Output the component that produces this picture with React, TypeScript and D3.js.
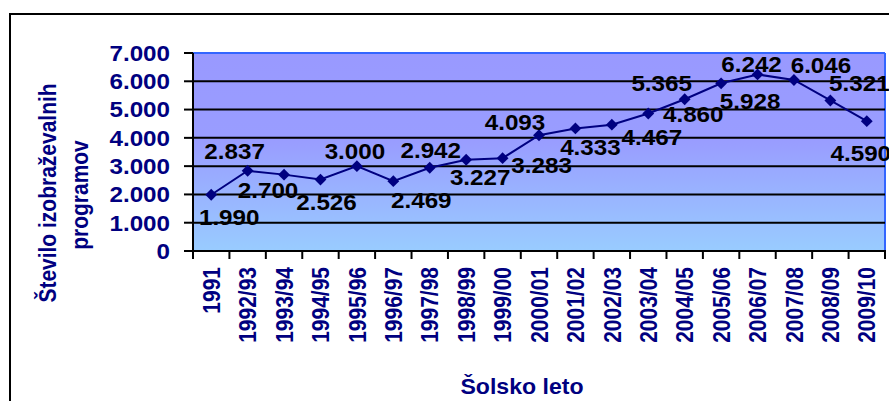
import React from "react";
import * as d3 from "d3";

// school years and number of programmes
const years = [
  "1991", "1992/93", "1993/94", "1994/95", "1995/96", "1996/97", "1997/98",
  "1998/99", "1999/00", "2000/01", "2001/02", "2002/03", "2003/04", "2004/05",
  "2005/06", "2006/07", "2007/08", "2008/09", "2009/10",
];
const programmes = [
  1990, 2837, 2700, 2526, 3000, 2469, 2942, 3227, 3283, 4093,
  4333, 4467, 4860, 5365, 5928, 6242, 6046, 5321, 4590,
];
const yTicks = [0, 1000, 2000, 3000, 4000, 5000, 6000, 7000];
const yTitle = ["Število izobraževalnih", "programov"];
const xTitle = "Šolsko leto";

// where each value label sits relative to its marker (px)
const labelNudge: [number, number][] = [
  [18, 22], [-13, -20], [-16, 15], [6, 23], [-2, -15], [28, 19], [1, -18],
  [14, 17], [39, 7], [-24, -13], [15, 19], [40, 12], [45, 1], [-23, -16],
  [29, 18], [-6, -10], [27, -15], [29, -17], [-6, 32],
];

const W = 889;
const H = 401;
const plot = { left: 193, right: 885, top: 53, bottom: 251 };
const font = "'Liberation Sans', Arial, sans-serif";
const stretch = 1.1;
const navy = "#000080";

const fmt = (v: number) => d3.format(",")(v).replace(/,/g, ".");

export default function App() {
  const x = d3
    .scaleBand<string>()
    .domain(years)
    .range([plot.left, plot.right]);
  const y = d3.scaleLinear().domain([0, 7000]).range([plot.bottom, plot.top]);
  const cx = (i: number) => (x(years[i]) as number) + x.bandwidth() / 2;

  const line = d3
    .line<number>()
    .x((_, i) => cx(i))
    .y((d) => y(d));

  const diamond = d3.symbol(d3.symbolSquare, 70)();

  const tickEdges = years.map((yr) => x(yr) as number).concat([plot.right]);

  return (
    <svg
      width={W}
      height={H}
      style={{ position: "fixed", left: 0, top: 0, display: "block" }}
      fontFamily={font}
      fontWeight="bold"
    >
      <defs>
        <linearGradient id="bg" x1="0" y1="0" x2="0" y2="1">
          <stop offset="0" stopColor="#9999ff" />
          <stop offset="0.45" stopColor="#999dff" />
          <stop offset="1" stopColor="#99ccff" />
        </linearGradient>
      </defs>
      <rect x={0} y={0} width={W} height={H} fill="#fff" />
      <rect
        x={10}
        y={14}
        width={W}
        height={H}
        fill="#fff"
        stroke="#000"
        strokeWidth={2}
      />

      {/* plot area */}
      <rect
        x={plot.left}
        y={plot.top}
        width={plot.right - plot.left}
        height={plot.bottom - plot.top}
        fill="url(#bg)"
      />
      <line x1={plot.left} x2={plot.right} y1={plot.top} y2={plot.top} stroke="#3366ff" strokeWidth={2} />
      <line x1={plot.right} x2={plot.right} y1={plot.top} y2={plot.bottom} stroke="#3366ff" strokeWidth={2} />

      {yTicks.slice(1, -1).map((t) => (
        <line key={t} x1={plot.left} x2={plot.right} y1={y(t)} y2={y(t)} stroke="#000" strokeWidth={2} />
      ))}

      {/* y axis */}
      <line x1={plot.left} x2={plot.left} y1={plot.top} y2={plot.bottom} stroke="#000" strokeWidth={2} />
      {yTicks.map((t) => (
        <g key={t}>
          <line x1={plot.left - 9} x2={plot.left} y1={y(t)} y2={y(t)} stroke="#000" strokeWidth={2} />
          <text
            transform={`translate(170,${y(t)}) scale(${stretch},1)`}
            textAnchor="end"
            dy="0.36em"
            fontSize={22}
            fill={navy}
          >
            {fmt(t)}
          </text>
        </g>
      ))}

      {/* x axis */}
      <line x1={plot.left} x2={plot.right + 1} y1={plot.bottom} y2={plot.bottom} stroke="#000" strokeWidth={2} />
      {tickEdges.map((e, i) => (
        <line key={i} x1={e} x2={e} y1={plot.bottom} y2={plot.bottom + 8} stroke="#000" strokeWidth={2} />
      ))}
      {years.map((yr, i) => (
        <text
          key={yr}
          transform={`translate(${cx(i)},267) scale(1.15,1) rotate(-90)`}
          textAnchor="end"
          dy="0.36em"
          fontSize={21}
          fill={navy}
        >
          {yr}
        </text>
      ))}

      {/* series */}
      <path d={line(programmes) ?? ""} fill="none" stroke={navy} strokeWidth={2} />
      {programmes.map((v, i) => (
        <path key={i} d={diamond ?? ""} transform={`translate(${cx(i)},${y(v)}) rotate(45)`} fill={navy} />
      ))}
      {programmes.map((v, i) => (
        <text
          key={i}
          transform={`translate(${cx(i) + labelNudge[i][0]},${y(v) + labelNudge[i][1]}) scale(${stretch},1)`}
          textAnchor="middle"
          dy="0.36em"
          fontSize={22}
          fill="#000"
        >
          {fmt(v)}
        </text>
      ))}

      {/* titles */}
      {yTitle.map((s, i) => (
        <text
          key={s}
          transform={`translate(${56 + i * 32},${193 + i * 2}) scale(1.15,1) rotate(-90)`}
          textAnchor="middle"
          fontSize={21}
          fill={navy}
        >
          {s}
        </text>
      ))}
      <text
        transform={`translate(522,394) scale(1.05,1)`}
        textAnchor="middle"
        fontSize={22}
        fill={navy}
      >
        {xTitle}
      </text>
    </svg>
  );
}
